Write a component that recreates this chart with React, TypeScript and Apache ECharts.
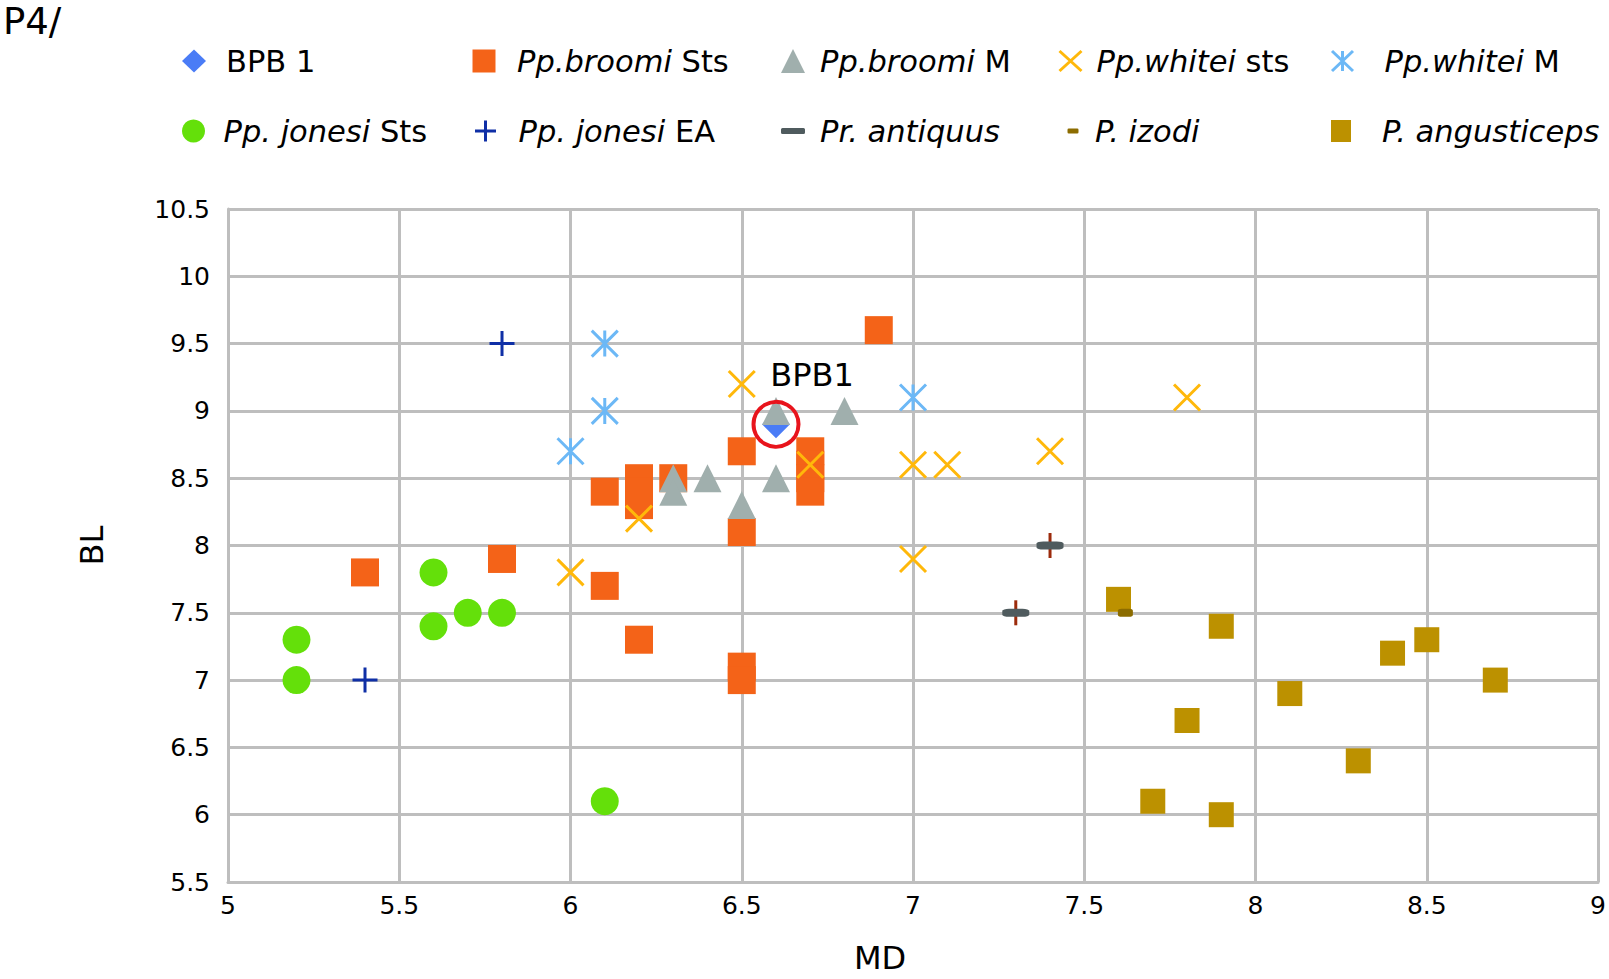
import React, { useEffect, useRef } from 'react';
import * as echarts from 'echarts';

// ---- data ----
const bpb1 = [[6.6, 8.9]];
const broomiSts = [
  [5.4, 7.8], [5.8, 7.9], [6.1, 8.4], [6.1, 7.7], [6.2, 8.5], [6.2, 8.4], [6.2, 8.3], [6.2, 7.3],
  [6.3, 8.5], [6.5, 8.7], [6.5, 8.1], [6.5, 7.1], [6.5, 7.0], [6.7, 8.7], [6.7, 8.6], [6.7, 8.5],
  [6.7, 8.4], [6.9, 9.6],
];
const broomiM = [[6.6, 9.0], [6.8, 9.0], [6.3, 8.5], [6.3, 8.4], [6.4, 8.5], [6.5, 8.3], [6.6, 8.5]];
const whiteiSts = [[6.5, 9.2], [6.7, 8.6], [6.2, 8.2], [6.0, 7.8], [7.0, 8.6], [7.1, 8.6], [7.0, 7.9], [7.4, 8.7], [7.8, 9.1]];
const whiteiM = [[6.1, 9.5], [6.1, 9.0], [6.0, 8.7], [7.0, 9.1]];
const jonesiSts = [[5.2, 7.3], [5.2, 7.0], [5.6, 7.8], [5.6, 7.4], [5.7, 7.5], [5.8, 7.5], [6.1, 6.1]];
const jonesiEA = [[5.8, 9.5], [5.4, 7.0]];
const antiquus = [[7.3, 7.5], [7.4, 8.0]];
const izodi = [[7.62, 7.5]];
const angusticeps = [[7.6, 7.6], [7.9, 7.4], [7.8, 6.7], [7.7, 6.1], [7.9, 6.0], [8.1, 6.9], [8.3, 6.4], [8.4, 7.2], [8.5, 7.3], [8.7, 7.0]];

const xMin = 5, xMax = 9, yMin = 5.5, yMax = 10.5, step = 0.5;
const xName = 'MD';
const yName = 'BL';
const titleText = 'P4/';
const markLabel = 'BPB1';

// ---- styling ----
const FONT = 'DejaVu Sans';
const SYM_X = 'path://M0,0L10,10M10,0L0,10';
const SYM_STAR = 'path://M5,0L5,10M0,0L10,10M10,0L0,10';
const SYM_PLUS = 'path://M5,0L5,10M0,5L10,5';
const GRID = '#BEBEBE';

const legendText: Record<string, string> = {
  'BPB 1': '{n|BPB 1}',
  'Pp. broomi Sts': '{i|Pp.broomi} {n|Sts}',
  'Pp. broomi M': '{i|Pp.broomi} {n|M}',
  'Pp. whitei sts': '{i|Pp.whitei} {n|sts}',
  'Pp. whitei M': '{i|Pp.whitei} {n|M}',
  'Pp. jonesi Sts': '{i|Pp. jonesi} {n|Sts}',
  'Pp. jonesi EA': '{i|Pp. jonesi} {n|EA}',
  'Pr. antiquus': '{i|Pr. antiquus}',
  'P. izodi': '{i|P. izodi}',
  'P. angusticeps': '{i|P. angusticeps}',
};

const rowY = [61, 131];
const legendLayout = [
  { name: 'BPB 1', cx: 194, row: 0, w: 24, h: 23, tx: 226, stroke: 0 },
  { name: 'Pp. broomi Sts', cx: 484, row: 0, w: 23, h: 23, tx: 517, stroke: 0 },
  { name: 'Pp. broomi M', cx: 793, row: 0, w: 24, h: 24, tx: 820, stroke: 0 },
  { name: 'Pp. whitei sts', cx: 1069, row: 0, w: 22, h: 20, tx: 1095, stroke: 3 },
  { name: 'Pp. whitei M', cx: 1341, row: 0, w: 21, h: 20, tx: 1383, stroke: 3 },
  { name: 'Pp. jonesi Sts', cx: 194, row: 1, w: 24, h: 23, tx: 224, stroke: 0 },
  { name: 'Pp. jonesi EA', cx: 484, row: 1, w: 21, h: 21, tx: 517, stroke: 3 },
  { name: 'Pr. antiquus', cx: 793, row: 1, w: 24, h: 6, tx: 820, stroke: 0 },
  { name: 'P. izodi', cx: 1073, row: 1, w: 11, h: 5, tx: 1095, stroke: 0 },
  { name: 'P. angusticeps', cx: 1341, row: 1, w: 20, h: 22, tx: 1382, stroke: 0 },
];

const LEG_FS = 30.5;
const LEG_LH = 34;

export default function App() {
  const ref = useRef<HTMLDivElement>(null);
  useEffect(() => {
    if (!ref.current) return;
    const chart = echarts.init(ref.current, undefined, { renderer: 'svg' });
    const legends = legendLayout.map((l) => ({
      data: [l.name],
      left: l.cx - l.w / 2,
      top: rowY[l.row] - LEG_LH / 2,
      padding: 0,
      itemWidth: l.w,
      itemHeight: l.h,
      symbolKeepAspect: false,
      selectedMode: false,
      itemStyle: l.stroke ? { borderWidth: l.stroke, opacity: 1 } : { borderWidth: 0, opacity: 1 },
      formatter: (n: string) => legendText[n],
      textStyle: {
        fontSize: LEG_FS,
        fontFamily: FONT,
        color: '#000',
        lineHeight: LEG_LH,
        padding: [0, 0, 0, l.tx - (l.cx + l.w / 2 + 5)],
        rich: {
          n: { fontSize: LEG_FS, fontFamily: FONT, color: '#000', lineHeight: LEG_LH },
          i: { fontSize: LEG_FS, fontFamily: FONT, color: '#000', fontStyle: 'italic', lineHeight: LEG_LH },
        },
      },
    }));

    const strokeStyle = (c: string) => ({ color: c, borderColor: c, borderWidth: 3, opacity: 1 });
    const fill = (c: string) => ({ color: c, opacity: 1 });

    chart.setOption({
      animation: false,
      backgroundColor: '#fff',
      title: {
        text: titleText,
        left: -2,
        top: -2,
        textStyle: { fontSize: 37, fontFamily: FONT, fontWeight: 'normal', color: '#000' },
      },
      legend: legends,
      grid: { left: 228, right: 7, top: 209, bottom: 97, containLabel: false },
      xAxis: {
        type: 'value',
        min: xMin,
        max: xMax,
        interval: step,
        name: xName,
        nameLocation: 'middle',
        nameGap: 60,
        nameTextStyle: { fontSize: 32, fontFamily: FONT, color: '#000', padding: [0, 66, 0, 0] },
        axisLine: { show: true, lineStyle: { color: GRID, width: 3 } },
        axisTick: { show: false },
        axisLabel: { fontSize: 25, fontFamily: FONT, color: '#000', margin: 11 },
        splitLine: { show: true, lineStyle: { color: GRID, width: 3 } },
      },
      yAxis: {
        type: 'value',
        min: yMin,
        max: yMax,
        interval: step,
        name: yName,
        nameLocation: 'middle',
        nameGap: 120,
        nameTextStyle: { fontSize: 32, fontFamily: FONT, color: '#000' },
        axisLine: { show: true, lineStyle: { color: GRID, width: 3 } },
        axisTick: { show: false },
        axisLabel: { fontSize: 25, fontFamily: FONT, color: '#000', margin: 18 },
        splitLine: { show: true, lineStyle: { color: GRID, width: 3 } },
      },
      series: [
        { name: 'BPB 1', type: 'scatter', data: bpb1, symbol: 'diamond', symbolSize: 28, itemStyle: fill('#4A7CF6') },
        { name: 'Pp. broomi Sts', type: 'scatter', data: broomiSts, symbol: 'rect', symbolSize: 28, itemStyle: fill('#F46318') },
        { name: 'Pp. broomi M', type: 'scatter', data: broomiM, symbol: 'triangle', symbolSize: 28, itemStyle: fill('#A0AFAD') },
        { name: 'Pp. whitei sts', type: 'scatter', data: whiteiSts, symbol: SYM_X, symbolSize: 26, itemStyle: strokeStyle('#FFB80A') },
        { name: 'Pp. whitei M', type: 'scatter', data: whiteiM, symbol: SYM_STAR, symbolSize: 26, itemStyle: strokeStyle('#6CB8F6') },
        { name: 'Pp. jonesi Sts', type: 'scatter', data: jonesiSts, symbol: 'circle', symbolSize: 28, itemStyle: fill('#64E00A') },
        { name: 'Pp. jonesi EA', type: 'scatter', data: jonesiEA, symbol: SYM_PLUS, symbolSize: 25, itemStyle: strokeStyle('#0F2FA6') },
        { name: 'Pr. antiquus bar', type: 'scatter', data: antiquus, symbol: 'rect', symbolSize: [3, 25], itemStyle: fill('#9C2B0C') },
        { name: 'Pr. antiquus', type: 'scatter', data: antiquus, symbol: 'roundRect', symbolSize: [27, 8], itemStyle: fill('#4F5B5E') },
        { name: 'P. angusticeps', type: 'scatter', data: angusticeps, symbol: 'rect', symbolSize: 25, itemStyle: fill('#BC9100') },
        { name: 'P. izodi', type: 'scatter', data: izodi, symbol: 'roundRect', symbolSize: [15, 8], itemStyle: fill('#8C6C00') },
        {
          name: 'BPB1 mark',
          type: 'scatter',
          data: bpb1,
          symbol: 'circle',
          symbolSize: 45,
          silent: true,
          itemStyle: { color: 'rgba(0,0,0,0)', borderColor: '#E8141C', borderWidth: 4, opacity: 1 },
          label: {
            show: true,
            formatter: markLabel,
            position: 'inside',
            offset: [36, -49],
            fontSize: 32,
            fontFamily: FONT,
            color: '#000',
          },
        },
      ],
    });
    return () => chart.dispose();
  }, []);
  return <div ref={ref} style={{ position: 'absolute', left: 0, top: 0, width: 1609, height: 979 }} />;
}
